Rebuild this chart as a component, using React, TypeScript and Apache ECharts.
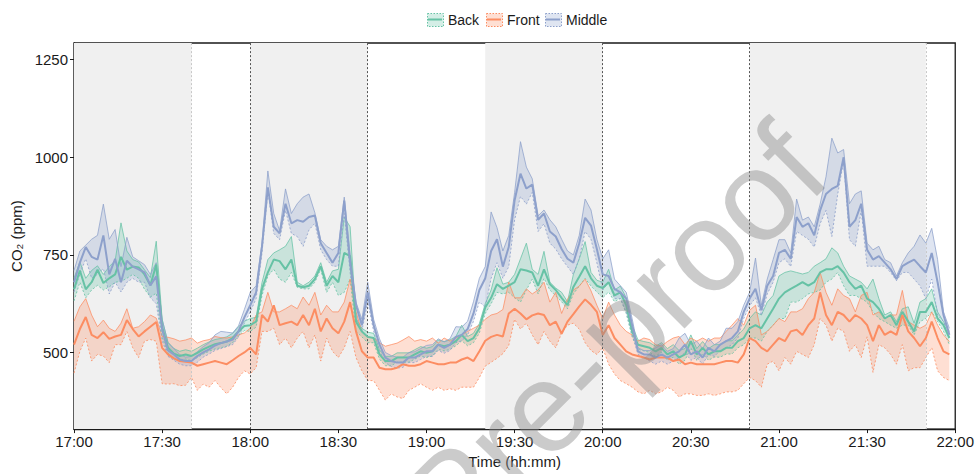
import React, { useEffect, useRef } from "react";
import * as echarts from "echarts";

// x: minutes after 17:00, sampled every 2 minutes
const timeLabels = ["17:00", "17:30", "18:00", "18:30", "19:00", "19:30", "20:00", "20:30", "21:00", "21:30", "22:00"];
const sampleMinutes = Array.from({ length: 150 }, (_, i) => i * 2);
const yTicks = [500, 750, 1000, 1250];

// Back (green)
const backMean = [
  662, 710, 662, 680, 712, 678, 690, 700, 745, 712, 720, 718, 700, 672, 725, 565,
  512, 497, 491, 495, 491, 499, 508, 515, 521, 524, 528, 537, 554, 568,
  570, 579, 663, 705, 738, 734, 713, 738, 671, 667, 671, 688, 721, 671, 696, 680, 755, 747, 579, 554, 540,
  537, 495, 478, 478, 487, 487, 487, 495, 503, 499, 503, 520, 516, 520, 529, 545, 529, 537, 562,
  615, 640, 675, 663, 671, 680, 713, 710, 705, 671, 713, 675, 660, 640, 621, 668, 694, 721, 690, 671, 665,
  680, 646, 654, 621, 554, 520, 516, 512, 503, 512,
  495, 503, 487, 495, 529, 495, 512, 495, 503, 503, 512, 512, 529, 537, 562, 570, 562, 587, 612, 638, 654, 663, 671, 680, 671,
  680, 705, 713, 713, 721, 705, 680, 663, 671, 638, 629, 612, 587, 596, 570, 604, 579, 554, 604, 604, 629, 587, 570, 537,
];
const backHigh = [
  690, 732, 690, 710, 722, 700, 720, 735, 832, 760, 738, 732, 712, 692, 785, 585,
  526, 510, 503, 507, 503, 511, 520, 527, 533, 536, 540, 549, 566, 580,
  587, 590, 679, 738, 755, 763, 772, 797, 680, 671, 680, 696, 730, 680, 709, 713, 847, 822, 587, 562, 552,
  549, 507, 490, 490, 499, 499, 499, 507, 515, 511, 515, 532, 528, 532, 541, 570, 541, 549, 574,
  625, 660, 717, 675, 680, 700, 740, 780, 713, 700, 759, 680, 665, 654, 630, 700, 740, 784, 705, 685, 680,
  713, 660, 670, 640, 570, 532, 528, 525, 516, 525,
  510, 520, 505, 510, 545, 510, 528, 510, 520, 520, 530, 530, 545, 560, 587, 604, 596, 629, 646, 696, 705, 709, 705, 701, 705,
  721, 730, 740, 768, 755, 721, 696, 688, 680, 663, 688, 638, 596, 604, 579, 612, 617, 575, 629, 638, 663, 604, 579, 554,
];
const backLow = [
  632, 680, 640, 660, 672, 660, 668, 680, 682, 690, 700, 690, 662, 642, 652, 540,
  498, 484, 479, 483, 479, 487, 496, 503, 509, 512, 516, 525, 542, 556,
  554, 565, 646, 696, 713, 688, 680, 705, 667, 663, 663, 680, 713, 654, 680, 646, 654, 688, 554, 540, 525,
  525, 483, 466, 466, 475, 475, 475, 483, 491, 487, 491, 508, 504, 508, 517, 530, 517, 525, 550,
  600, 625, 654, 650, 654, 640, 629, 660, 688, 650, 690, 660, 645, 630, 612, 650, 670, 690, 670, 655, 640,
  655, 630, 638, 600, 540, 508, 504, 500, 491, 500,
  480, 488, 470, 480, 512, 480, 496, 480, 488, 488, 496, 496, 512, 520, 537, 537, 529, 554, 570, 587, 587, 629, 629, 638, 650,
  654, 660, 680, 688, 705, 671, 646, 646, 638, 629, 604, 587, 579, 570, 562, 570, 570, 545, 579, 587, 604, 579, 554, 520,
];

// Front (orange)
const frontMean = [
  520, 560, 591, 545, 537, 552, 535, 541, 545, 583, 560, 541, 554, 566, 578, 512,
  495, 485, 478, 476, 474, 466, 470, 474, 478, 474, 470, 480, 491, 500,
  512, 495, 596, 579, 621, 570, 575, 579, 570, 596, 570, 612, 554, 587, 562, 549, 579, 629, 554, 503, 487,
  487, 461, 457, 457, 461, 470, 466, 466, 470, 478, 474, 470, 470, 474, 474, 482, 487, 478, 503,
  530, 540, 545, 541, 600, 612, 600, 585, 595, 600, 596, 570, 579, 548, 579, 598, 618, 636, 622, 604, 545,
  570, 537, 520, 503, 495, 491, 487, 482, 487, 487,
  487, 478, 482, 470, 474, 470, 470, 470, 470, 474, 478, 478, 474, 495, 537, 529, 512, 503, 520, 537, 529, 554, 558, 545, 570,
  587, 654, 596, 570, 604, 596, 579, 596, 587, 570, 529, 570, 545, 554, 545, 596, 554, 537, 516, 537, 579, 537, 503, 495,
];
const frontHigh = [
  580, 617, 638, 596, 566, 583, 562, 554, 575, 612, 562, 566, 579, 596, 588, 541,
  539, 535, 529, 532, 537, 524, 530, 533, 541, 538, 537, 540, 545, 550,
  562, 596, 604, 654, 604, 604, 612, 621, 612, 642, 621, 654, 596, 621, 604, 604, 629, 688, 604, 554, 540,
  537, 525, 516, 520, 524, 532, 541, 529, 533, 529, 537, 524, 537, 529, 537, 545, 554, 562, 570,
  585, 596, 600, 610, 680, 640, 640, 663, 650, 660, 680, 629, 654, 600, 636, 660, 670, 688, 658, 621, 587,
  629, 596, 570, 554, 545, 529, 537, 533, 520, 516,
  528, 537, 541, 520, 537, 529, 537, 529, 537, 537, 554, 570, 587, 570, 608, 621, 545, 554, 570, 587, 579, 604, 604, 612, 638,
  654, 705, 654, 621, 663, 646, 638, 604, 646, 654, 596, 604, 587, 596, 596, 659, 579, 570, 562, 570, 604, 570, 545, 528,
];
const frontLow = [
  447, 503, 537, 478, 495, 491, 474, 520, 520, 554, 512, 487, 529, 533, 529, 420,
  419, 420, 415, 416, 436, 403, 419, 411, 428, 410, 394, 411, 436, 453,
  445, 461, 554, 554, 562, 520, 537, 512, 537, 554, 512, 545, 478, 537, 503, 487, 512, 554, 487, 453, 428,
  428, 403, 378, 394, 386, 382, 403, 411, 420, 411, 403, 411, 403, 407, 403, 411, 411, 411, 436,
  465, 475, 485, 497, 518, 585, 560, 575, 545, 520, 554, 529, 512, 550, 570, 575, 560, 525, 505, 495, 512,
  470, 445, 428, 420, 411, 399, 394, 403, 394, 399,
  411, 403, 386, 394, 394, 390, 390, 394, 390, 394, 399, 399, 403, 420, 436, 428, 411, 470, 478, 453, 487, 470, 503, 495, 487,
  520, 587, 570, 529, 562, 554, 503, 520, 487, 540, 449, 520, 512, 495, 470, 520, 453, 461, 461, 487, 512, 453, 436, 428,
];

// Middle (blue)
const middleMean = [
  680, 730, 770, 745, 738, 800, 700, 740, 680, 735, 720, 713, 705, 672, 695, 560,
  505, 495, 482, 478, 478, 491, 500, 508, 518, 524, 528, 533, 554, 590,
  621, 654, 772, 923, 822, 805, 881, 831, 839, 835, 847, 851, 780, 755, 730, 755, 889, 730, 621, 570, 654,
  570, 520, 487, 478, 474, 474, 487, 487, 495, 503, 503, 520, 512, 520, 540, 545, 560, 600, 660,
  690, 760, 790, 720, 770, 890, 958, 920, 930, 840, 856, 810, 797, 765, 740, 730, 780, 845, 825, 765, 700,
  696, 663, 654, 638, 570, 503, 495, 495, 487, 495,
  487, 495, 503, 520, 495, 503, 487, 512, 503, 520, 529, 537, 554, 604, 638, 663, 608, 671, 696, 755, 763, 740, 847, 822, 831,
  800, 864, 906, 919, 927, 1000, 822, 839, 881, 763, 738, 747, 730, 713, 688, 721, 730, 738, 721, 705, 755, 680, 596, 545,
];
const middleHigh = [
  710, 760, 775, 790, 800, 880, 790, 815, 720, 795, 745, 735, 725, 700, 730, 585,
  525, 510, 495, 488, 490, 502, 515, 525, 545, 554, 552, 550, 568, 610,
  654, 671, 780, 965, 856, 812, 919, 856, 881, 898, 906, 858, 789, 772, 763, 772, 898, 750, 629, 585, 680,
  585, 535, 500, 492, 488, 488, 500, 502, 510, 518, 520, 535, 527, 535, 566, 565, 580, 630, 690,
  720, 860, 820, 760, 800, 910, 1040, 975, 945, 850, 865, 840, 822, 790, 760, 750, 800, 893, 865, 790, 740,
  763, 688, 671, 654, 587, 512, 505, 505, 512, 520,
  503, 510, 537, 549, 520, 529, 510, 537, 520, 529, 562, 562, 579, 621, 654, 742, 621, 688, 738, 789, 789, 755, 893, 839, 847,
  822, 880, 950, 1049, 1011, 1020, 881, 906, 914, 780, 763, 772, 738, 730, 696, 730, 755, 772, 801, 780, 818, 738, 604, 562,
];
const middleLow = [
  655, 700, 740, 690, 700, 715, 650, 680, 655, 680, 690, 680, 680, 640, 625, 530,
  490, 480, 470, 466, 466, 475, 488, 496, 505, 510, 515, 520, 540, 575,
  604, 638, 755, 914, 805, 789, 864, 805, 797, 772, 814, 831, 763, 738, 721, 721, 856, 705, 587, 555, 630,
  555, 505, 474, 464, 460, 462, 474, 474, 482, 490, 490, 505, 498, 505, 525, 530, 545, 580, 630,
  615, 690, 730, 690, 720, 840, 900, 880, 910, 810, 830, 780, 765, 740, 720, 700, 740, 810, 790, 730, 660,
  680, 638, 638, 604, 545, 495, 487, 478, 470, 478,
  470, 478, 487, 500, 480, 487, 470, 495, 490, 505, 512, 520, 537, 587, 620, 640, 595, 650, 680, 730, 740, 720, 810, 800, 790,
  770, 830, 864, 797, 906, 990, 789, 772, 864, 721, 721, 721, 721, 705, 684, 705, 705, 688, 671, 638, 688, 596, 579, 537,
];

// occupied / shaded periods (minutes after 17:00)
const shadedPeriods = [[0, 40], [60, 100], [140, 180], [230, 290]];
const dashedMarks = [60, 100, 180, 230];
const faintMarks = [40, 290];

const groups = [
  { name: "Back", color: "#66C2A5", fill: "rgba(102,194,165,0.28)", mean: backMean, hi: backHigh, lo: backLow },
  { name: "Front", color: "#FC8D62", fill: "rgba(252,141,98,0.28)", mean: frontMean, hi: frontHigh, lo: frontLow },
  { name: "Middle", color: "#8DA0CB", fill: "rgba(141,160,203,0.28)", mean: middleMean, hi: middleHigh, lo: middleLow },
];

const FONT = "'Liberation Sans', Arial, Helvetica, sans-serif";
const pairs = (ys: number[]) => sampleMinutes.map((t, i) => [t, ys[i]]);

export default function App() {
  const ref = useRef<HTMLDivElement>(null);
  useEffect(() => {
    const chart = echarts.init(ref.current as HTMLDivElement, null, { renderer: "svg" });

    const series: any[] = [];
    series.push({
      type: "line",
      data: [],
      silent: true,
      z: 1,
      markArea: {
        silent: true,
        itemStyle: { color: "#F0F0F0" },
        data: shadedPeriods.map(([a, b]) => [{ xAxis: a }, { xAxis: b }]),
      },
    });
    groups.forEach((g) => {
      series.push({
        type: "custom",
        silent: true,
        z: 2,
        clip: true,
        data: [[sampleMinutes[0], g.lo[0]]],
        encode: { x: 0, y: 1 },
        renderItem: (params: any, api: any) => {
          const pts: number[][] = [];
          for (let i = 0; i < sampleMinutes.length; i++) pts.push(api.coord([sampleMinutes[i], g.hi[i]]));
          for (let i = sampleMinutes.length - 1; i >= 0; i--) pts.push(api.coord([sampleMinutes[i], g.lo[i]]));
          return { type: "polygon", shape: { points: pts }, style: { fill: g.fill, stroke: "none" } };
        },
      });
    });
    series.push({
      type: "line",
      data: [],
      silent: true,
      z: 3,
      markLine: {
        silent: true,
        symbol: ["none", "none"],
        label: { show: false },
        data: [
          ...dashedMarks.map((x) => ({ xAxis: x, lineStyle: { color: "#555", width: 1, type: [2, 2] } })),
          ...faintMarks.map((x) => ({ xAxis: x, lineStyle: { color: "#C8C8C8", width: 1, type: [2, 2] } })),
        ],
      },
    });
    groups.forEach((g) => {
      series.push({
        type: "line", data: pairs(g.hi), symbol: "none", silent: true, z: 4,
        lineStyle: { color: g.color, width: 0.9, opacity: 0.85 },
      });
      series.push({
        type: "line", data: pairs(g.lo), symbol: "none", silent: true, z: 4,
        lineStyle: { color: g.color, width: 0.9, opacity: 0.9, type: [2, 2] },
      });
    });
    groups.forEach((g) => {
      series.push({
        name: g.name, type: "line", data: pairs(g.mean), symbol: "none", silent: true, z: 5,
        lineStyle: { color: g.color, width: 2 },
      });
    });

    const legendX = [427, 486, 545];
    const legendGraphics: any[] = [];
    groups.forEach((g, k) => {
      const x = legendX[k];
      legendGraphics.push({
        type: "rect", left: x, top: 13, shape: { width: 16, height: 13 }, z: 50,
        style: { fill: g.fill, stroke: g.color, lineWidth: 1, lineDash: [1.5, 1.5] },
      });
      legendGraphics.push({
        type: "line", z: 51, shape: { x1: x + 1, y1: 19.5, x2: x + 15, y2: 19.5 },
        style: { stroke: g.color, lineWidth: 2 },
      });
      legendGraphics.push({
        type: "text", z: 51, x: x + 21, y: 20,
        style: { text: g.name, fill: "#1a1a1a", font: `14px ${FONT}`, textVerticalAlign: "middle", textAlign: "left" },
      });
    });

    chart.setOption({
      animation: false,
      backgroundColor: "#ffffff",
      grid: { left: 74, right: 20, top: 43, bottom: 38, show: true, borderColor: "#1a1a1a", borderWidth: 1.3, backgroundColor: "transparent" },
      xAxis: {
        type: "value", min: 0, max: 300, interval: 30,
        axisLine: { show: true, lineStyle: { color: "#1a1a1a", width: 1.3 } },
        axisTick: { show: true, length: 4, lineStyle: { color: "#1a1a1a" } },
        splitLine: { show: false },
        axisLabel: {
          color: "#1a1a1a", fontSize: 15, fontFamily: FONT, margin: 5,
          formatter: (v: number) => timeLabels[Math.round(v / 30)] ?? "",
        },
        name: "Time (hh:mm)", nameLocation: "middle", nameGap: 24,
        nameTextStyle: { color: "#1a1a1a", fontSize: 15, fontFamily: FONT },
      },
      yAxis: {
        type: "value", min: 303.7, max: 1292.8,
        axisLine: { show: true, lineStyle: { color: "#1a1a1a", width: 1.3 } },
        axisTick: { show: true, length: 4, lineStyle: { color: "#1a1a1a" }, customValues: yTicks },
        splitLine: { show: false },
        axisLabel: {
          color: "#1a1a1a", fontSize: 15, fontFamily: FONT, margin: 6, customValues: yTicks,
          formatter: (v: number) => String(v),
        },
        name: "CO₂ (ppm)", nameLocation: "middle", nameGap: 46,
        nameTextStyle: { color: "#1a1a1a", fontSize: 15, fontFamily: FONT },
      },
      series,
      graphic: [
        ...legendGraphics,
        {
          type: "text", x: 614, y: 336, rotation: (45 * Math.PI) / 180, z: 100, silent: true,
          style: {
            text: "Pre-proof", fill: "rgba(140,140,140,0.45)", font: `128px ${FONT}`,
            textAlign: "center", textVerticalAlign: "middle",
          },
        },
      ],
    });
    return () => chart.dispose();
  }, []);
  return <div ref={ref} style={{ position: "fixed", left: 0, top: 0, width: 977, height: 474 }} />;
}
